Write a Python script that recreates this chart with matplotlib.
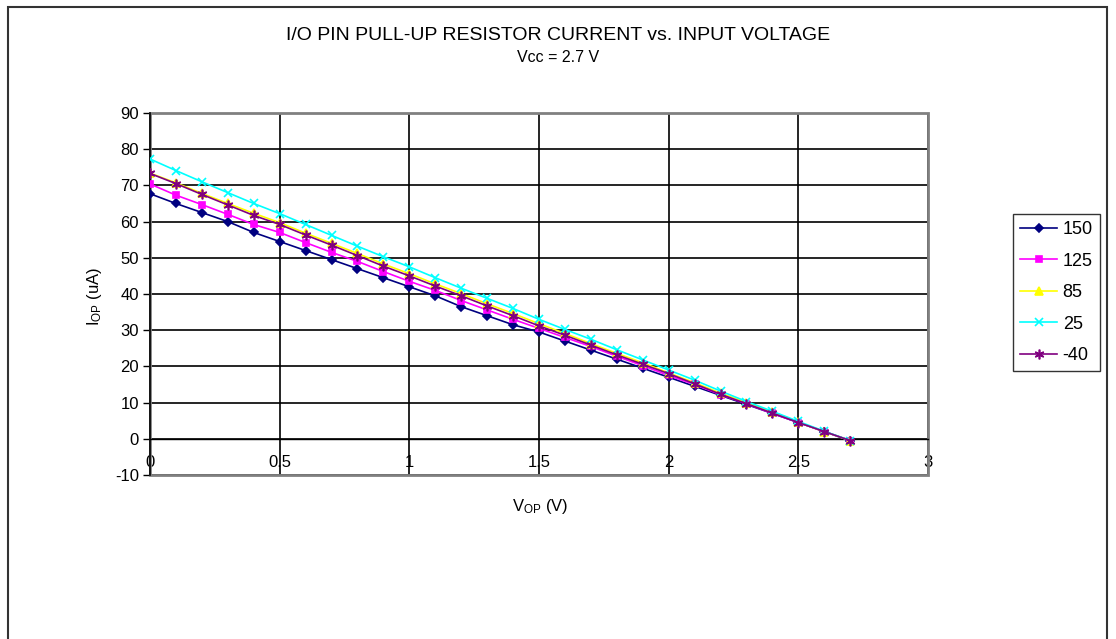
import matplotlib.pyplot as plt
import numpy as np
from matplotlib.patches import Rectangle

plt.rcParams['font.family'] = ['Liberation Sans', 'DejaVu Sans']
plt.rcParams['mathtext.default'] = 'regular'
plt.rcParams['axes.unicode_minus'] = False

# Datos
v_op = [0.0, 0.1, 0.2, 0.3, 0.4, 0.5, 0.6, 0.7, 0.8, 0.9, 1.0, 1.1, 1.2, 1.3,
        1.4, 1.5, 1.6, 1.7, 1.8, 1.9, 2.0, 2.1, 2.2, 2.3, 2.4, 2.5, 2.6, 2.7]

i_150 = [67.7, 65.0, 62.5, 60.0, 57.0, 54.5, 52.0, 49.5, 47.0, 44.5, 42.0, 39.5,
         36.5, 34.0, 31.5, 29.5, 27.0, 24.5, 22.0, 19.5, 17.0, 14.5, 12.0, 9.5,
         7.0, 4.5, 2.0, -0.5]
i_125 = [70.4, 67.3, 64.7, 62.0, 59.2, 57.0, 54.2, 51.5, 49.0, 46.2, 43.5, 41.0,
         38.2, 35.6, 33.0, 30.5, 28.0, 25.5, 22.8, 20.2, 17.5, 15.0, 12.2, 9.7,
         7.0, 4.5, 2.0, -0.5]
i_85 = [73.4, 70.7, 67.8, 65.0, 62.3, 59.7, 56.8, 54.0, 51.2, 48.3, 45.6, 42.8,
        40.1, 37.3, 34.6, 31.8, 29.1, 26.3, 23.6, 21.0, 18.2, 15.5, 12.6, 10.0,
        7.4, 4.6, 2.0, -0.5]
i_25 = [77.3, 74.1, 71.0, 68.0, 65.0, 62.2, 59.2, 56.2, 53.2, 50.3, 47.5, 44.5,
        41.6, 38.8, 36.0, 33.0, 30.2, 27.5, 24.6, 21.8, 19.0, 16.2, 13.2, 10.3,
        7.6, 4.8, 2.1, -0.5]
i_m40 = [73.3, 70.5, 67.5, 64.6, 61.7, 59.2, 56.3, 53.5, 50.6, 47.7, 45.0, 42.2,
         39.5, 36.7, 34.0, 31.2, 28.6, 25.9, 23.2, 20.6, 18.0, 15.2, 12.3, 9.7,
         7.1, 4.5, 2.0, -0.5]

series = [('150', i_150, '#000080', 'D', 4.5),
          ('125', i_125, '#FF00FF', 's', 5),
          ('85', i_85, '#FFFF00', '^', 5.5),
          ('25', i_25, '#00FFFF', 'x', 6),
          ('-40', i_m40, '#800080', (6, 2, 0), 7)]

fig = plt.figure(figsize=(11.16, 6.39), dpi=100)
ax = fig.add_axes([150 / 1116, 1 - 475 / 639, 778 / 1116, 362 / 639])

for nombre, datos, color, marca, tam in series:
    ax.plot(v_op, datos, color=color, marker=marca, markersize=tam,
            linewidth=1.2, markeredgewidth=1.2, label=nombre, zorder=3)

ax.set_xlim(0, 3)
ax.set_ylim(-10, 90)
ax.set_xticks(np.arange(0, 3.01, 0.5))
ax.set_xticklabels(['0', '0.5', '1', '1.5', '2', '2.5', '3'])
ax.set_yticks(np.arange(-10, 91, 10))
ax.grid(True, color='black', linewidth=1.2, zorder=0.5)
ax.set_axisbelow(True)

ax.spines['top'].set_visible(False)
ax.spines['right'].set_visible(False)
ax.spines['bottom'].set_position(('data', 0))
ax.spines['bottom'].set_linewidth(1.0)
ax.spines['left'].set_linewidth(1.2)
ax.add_patch(Rectangle((0, 0), 1, 1, transform=ax.transAxes, fill=False,
                       edgecolor='#808080', linewidth=2, zorder=1.5, clip_on=False))

ax.tick_params(axis='y', direction='out', length=5, width=1, pad=3, labelsize=12)
ax.tick_params(axis='x', direction='out', length=0, pad=12, labelsize=12)

fig.text(0.5, 1 - 36 / 639, 'I/O PIN PULL-UP RESISTOR CURRENT vs. INPUT VOLTAGE',
         ha='center', va='center', fontsize=14)
fig.text(0.5, 1 - 57 / 639, 'Vcc = 2.7 V', ha='center', va='center', fontsize=11.5)
fig.text(540 / 1116, 1 - 507 / 639, 'V$_{OP}$ (V)', ha='center', va='center', fontsize=12)
fig.text(95 / 1116, 1 - 296 / 639, 'I$_{OP}$ (uA)', ha='center', va='center',
         rotation=90, fontsize=12)

leg = fig.legend(loc='upper left', bbox_to_anchor=(1013 / 1116, 1 - 214 / 639),
                 frameon=True, fancybox=False, edgecolor='black', fontsize=13,
                 handlelength=2.05, handletextpad=0.3, labelspacing=0.8,
                 borderpad=0.4, borderaxespad=0)
leg.get_frame().set_linewidth(1.0)

# Marco exterior del grafico
fig.patches.append(Rectangle((8 / 1116, -0.05), 1099 / 1116, 1 - 7 / 639 + 0.05,
                             transform=fig.transFigure, fill=False,
                             edgecolor='#333333', linewidth=1.5))

fig.savefig('out.png', dpi=100)
